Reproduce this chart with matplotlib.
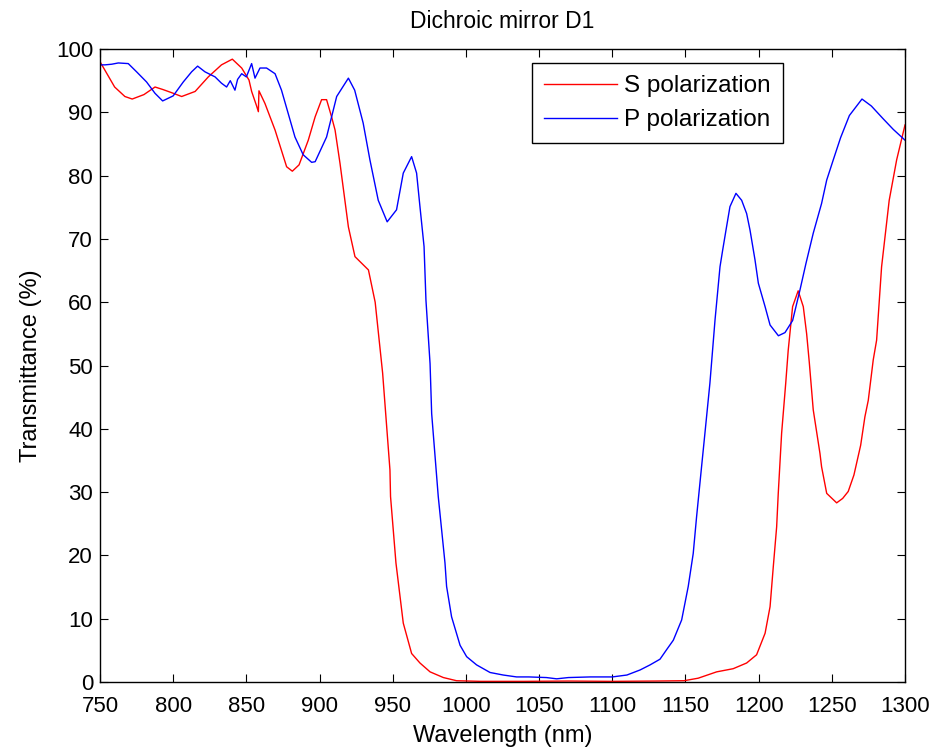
import matplotlib
matplotlib.use("Agg")
import matplotlib.pyplot as plt
import numpy as np

plt.rcParams['font.family'] = ['Liberation Sans', 'DejaVu Sans']

s_wl = [750, 760, 767, 772, 780, 787.6, 793, 799, 805.8, 815, 824, 833, 840.4, 846.8,
        851.8, 853.6, 857, 858.2, 858.6, 862.7, 869.6, 877.5, 881.4, 886, 892.3, 897,
        901.4, 904.8, 908.2, 910.6, 914, 919.7, 924.2, 933.4, 938, 943.1, 948.1, 948.5,
        952.2, 957.2, 962.9, 968.6, 975.5, 984.6, 993.6, 1010, 1040, 1070, 1100, 1130,
        1149, 1158.7, 1171.3, 1182.6, 1191.8, 1198.6, 1204.4, 1207.8, 1210, 1212.3,
        1213.4, 1215.7, 1218.5, 1220.2, 1223.2, 1227, 1230.5, 1232.8, 1234.6, 1237.3,
        1241.9, 1243, 1246.5, 1253.3, 1257.4, 1261.2, 1265.1, 1269.7, 1272.6, 1274.9,
        1278.3, 1280.6, 1284, 1289.2, 1294.3, 1300]
s_tr = [98.0, 94.0, 92.5, 92.1, 92.8, 94.0, 93.6, 93.1, 92.5, 93.3, 95.6, 97.5, 98.4, 97.0,
        95.1, 93.3, 91.0, 90.1, 93.4, 91.4, 87.2, 81.4, 80.7, 81.7, 85.6, 89.3,
        92.0, 92.0, 89.3, 87.2, 81.9, 71.9, 67.2, 65.1, 60.0, 48.8, 33.5, 29.3,
        18.8, 9.3, 4.5, 3.0, 1.6, 0.7, 0.2, 0.1, 0.1, 0.15, 0.1, 0.15,
        0.2, 0.6, 1.6, 2.1, 3.0, 4.3, 7.7, 11.9, 18.2, 24.5,
        29.8, 39.3, 47.2, 52.4, 59.3, 61.8, 59.3, 55.0, 50.5, 43.0,
        36.1, 34.0, 29.8, 28.3, 29.0, 30.1, 32.7, 37.4, 41.9, 44.5,
        50.9, 54.0, 65.6, 76.1, 82.5, 88.0]

p_wl = [750, 753.4, 758, 762.5, 769.3, 775, 781.8, 787.6, 792.8, 800, 806.9, 812.6, 816.7,
        821.7, 828.6, 833, 836.5, 839, 842.2, 844, 846.8, 850, 853.6, 855.9, 859.3, 863.8,
        869.6, 874, 878.6, 883.2, 888.8, 894.6, 897, 904.8, 911.7, 919.7, 924, 929.8,
        934.4, 940.1, 946.2, 952.6, 957.2, 962.9, 966.3, 968.6, 971.4, 972.7, 975.5,
        976.6, 981.1, 985.7, 986.8, 990.2, 996, 1000.5, 1007.3, 1016.5, 1025.5, 1034.6,
        1043, 1055, 1062, 1070, 1085, 1100, 1110, 1119, 1125.8, 1132.6, 1137.1, 1141.7,
        1147.4, 1151.9, 1155.3, 1157.6, 1161, 1163.3, 1166.7, 1170.2, 1173.6, 1175.4,
        1177.7, 1180.4, 1184.5, 1188.4, 1191.8, 1194.1, 1197.5, 1199.8, 1204.4, 1207.8,
        1213.5, 1218, 1223.2, 1228.2, 1232.3, 1237.3, 1243, 1246.5, 1251, 1256, 1262,
        1270.6, 1277, 1285, 1292, 1300]
p_tr = [97.5, 97.5, 97.6, 97.8, 97.7, 96.4, 94.8, 93.0, 91.8, 92.6, 94.8, 96.4, 97.3,
        96.4, 95.6, 94.6, 94.0, 95.0, 93.5, 95.2, 96.1, 95.6, 97.7, 95.4, 97.0, 97.0,
        96.1, 93.5, 89.8, 86.1, 83.3, 82.1, 82.2, 86.1, 92.5, 95.4, 93.5, 88.3,
        82.5, 76.1, 72.7, 74.6, 80.4, 83.0, 80.4, 75.1, 68.8, 60.3, 50.3,
        42.4, 29.3, 18.8, 15.1, 10.3, 5.8, 4.0, 2.7, 1.5, 1.1, 0.8,
        0.8, 0.7, 0.5, 0.7, 0.8, 0.8, 1.1, 1.9, 2.7, 3.6, 5.1, 6.6,
        9.8, 15.1, 20.3, 26.1, 34.0, 39.3, 47.2, 57.2, 65.6, 68.2,
        71.4, 75.1, 77.2, 76.1, 74.0, 71.4, 66.7, 63.0, 59.3, 56.4,
        54.7, 55.2, 57.1, 61.9, 66.1, 70.9, 75.6, 79.3, 82.5, 86.0, 89.5,
        92.1, 91.0, 89.0, 87.3, 85.6]

xticks = list(range(750, 1301, 50))
yticks = list(range(0, 101, 10))

fig = plt.figure(figsize=(9.39, 7.52), dpi=100)
ax = fig.add_axes([0.1065, 0.0931, 0.8573, 0.8417])
ax.plot(s_wl, s_tr, color='#ff0000', lw=1.0, label='S polarization')
ax.plot(p_wl, p_tr, color='#0000ff', lw=1.0, label='P polarization')
ax.set_xlim(750, 1300)
ax.set_ylim(0, 100)
ax.set_xticks(xticks)
ax.set_yticks(yticks)
ax.tick_params(direction='in', top=True, right=True, labelsize=16, length=6, width=0.8)
ax.tick_params(axis='x', pad=10)
ax.tick_params(axis='y', pad=5)
for sp in ax.spines.values():
    sp.set_linewidth(1.0)
ax.set_xlabel('Wavelength (nm)', fontsize=17, labelpad=6)
ax.set_ylabel('Transmittance (%)', fontsize=17, labelpad=10)
ax.set_title('Dichroic mirror D1', fontsize=16.5, pad=15)
leg = ax.legend(loc='upper right', bbox_to_anchor=(0.848, 0.978), fontsize=17.5, frameon=True,
                fancybox=False, edgecolor='black', framealpha=1, handlelength=3.0,
                borderpad=0.5, labelspacing=0.5, handletextpad=0.3, borderaxespad=0)
leg.get_frame().set_linewidth(1.0)
fig.savefig('out.png', dpi=100)
